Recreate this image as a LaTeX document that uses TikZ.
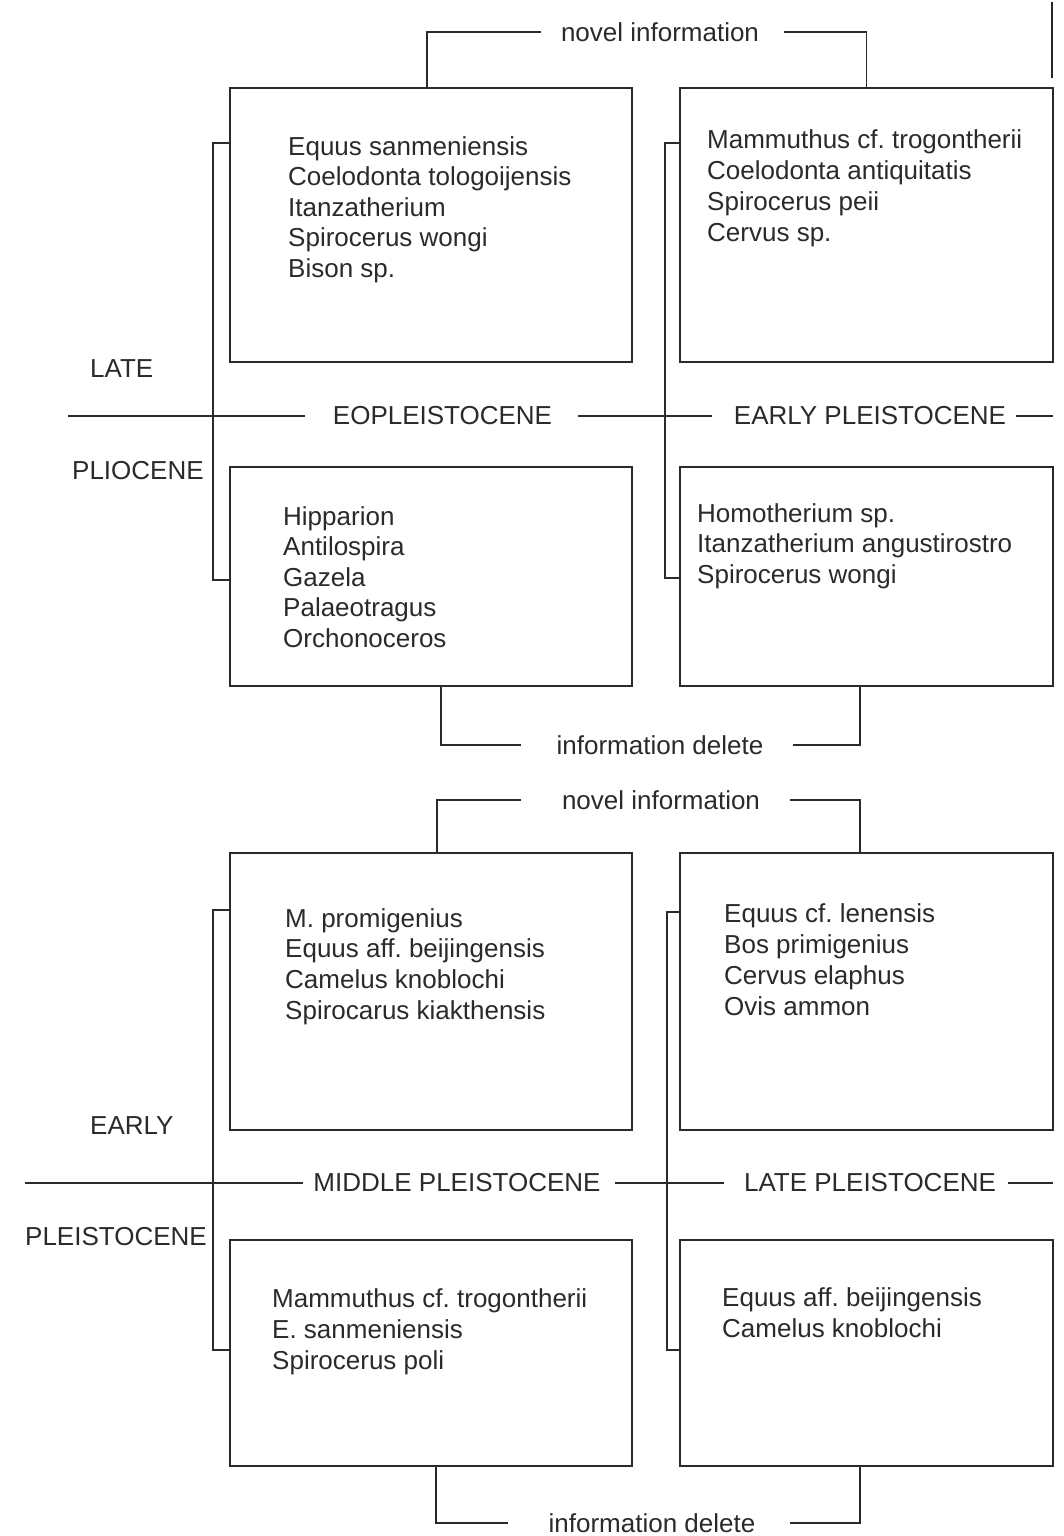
\documentclass[tikz,border=0pt]{standalone}
\usepackage{fontspec}
\setmainfont{Liberation Sans}
\usetikzlibrary{calc}
\definecolor{ink}{HTML}{2A2A2A}
\frenchspacing
\begin{document}
\begin{tikzpicture}[x=1pt,y=-1pt,
  box/.style={draw=ink, line width=2.2pt, inner sep=0pt, outer sep=0pt, anchor=north west},
  conn/.style={draw=ink, line width=1.7pt},
  item/.style={text=ink, inner sep=0pt, font=\fontsize{26}{31}\selectfont, anchor=base west},
  lbl/.style={text=ink, inner sep=0pt, font=\fontsize{26}{31}\selectfont}]
\useasboundingbox (0,0) rectangle (1063,1536);

% ---------- panel 1 boxes ----------
\node[box, minimum width=402pt, minimum height=274pt] (A) at (230,88) {};
\node[box, minimum width=373pt, minimum height=274pt] (B) at (680,88) {};
\node[box, minimum width=402pt, minimum height=219pt] (C) at (230,467) {};
\node[box, minimum width=373pt, minimum height=219pt] (D) at (680,467) {};

\foreach \t [count=\i] in {Equus sanmeniensis, Coelodonta tologoijensis, Itanzatherium, Spirocerus wongi, Bison sp.}
  \node[item] (A\i) at (288,{155+(\i-1)*30.6}) {\t};
\foreach \t [count=\i] in {Mammuthus cf. trogontherii, Coelodonta antiquitatis, Spirocerus peii, Cervus sp.}
  \node[item] (B\i) at (707,{148+(\i-1)*31}) {\t};
\foreach \t [count=\i] in {Hipparion, Antilospira, Gazela, Palaeotragus, Orchonoceros}
  \node[item] (C\i) at (283,{525+(\i-1)*30.5}) {\t};
\foreach \t [count=\i] in {Homotherium sp., Itanzatherium angustirostro, Spirocerus wongi}
  \node[item] (D\i) at (697,{522+(\i-1)*30.5}) {\t};

% ---------- panel 1 labels ----------
\node[lbl, anchor=west] (late) at (90,369) {LATE};
\node[lbl, anchor=west] (plio) at (72,471) {PLIOCENE};
\node[lbl] (eop) at (442.5,416) {EOPLEISTOCENE};
\node[lbl] (epl) at (870,416) {EARLY PLEISTOCENE};
\coordinate (h1l) at (68,416);
\coordinate (h1r) at (1053,416);
\draw[conn] (h1l) -- ($(eop.west)+(-28,0)$);
\draw[conn] ($(eop.east)+(26,0)$) -- ($(epl.west)+(-22,0)$);
\draw[conn] ($(epl.east)+(10,0)$) -- (h1r);

% brackets
\draw[conn] ($(A.north west)+(0,55)$) -| ($(C.north west)+(-17,113)$) -- ($(C.north west)+(0,113)$);
\draw[conn] ($(B.north west)+(0,55)$) -| ($(D.north west)+(-15,111)$) -- ($(D.north west)+(0,111)$);

% novel information / information delete
\node[lbl] (nov1) at (660,32) {novel information};
\draw[conn] ($(A.north west)+(197,0)$) |- ($(nov1.west)+(-20,0)$);
\draw[conn] ($(nov1.east)+(25,0)$) -| (B.north);
\node[lbl] (del1) at (660,745) {information delete};
\draw[conn] ($(C.south west)+(211,0)$) |- ($(del1.west)+(-35,0)$);
\draw[conn] ($(del1.east)+(29,0)$) -| ($(D.south west)+(180,0)$);
\coordinate (edge1) at (1052,2);
\coordinate (edge2) at (1052,78);
\draw[conn] (edge1) -- (edge2);

% ---------- panel 2 boxes ----------
\node[box, minimum width=402pt, minimum height=277pt] (E) at (230,853) {};
\node[box, minimum width=373pt, minimum height=277pt] (F) at (680,853) {};
\node[box, minimum width=402pt, minimum height=226pt] (G) at (230,1240) {};
\node[box, minimum width=373pt, minimum height=226pt] (H) at (680,1240) {};

\foreach \t [count=\i] in {M. promigenius, Equus aff. beijingensis, Camelus knoblochi, Spirocarus kiakthensis}
  \node[item] (E\i) at (285,{927+(\i-1)*30.7}) {\t};
\foreach \t [count=\i] in {Equus cf. lenensis, Bos primigenius, Cervus elaphus, Ovis ammon}
  \node[item] (F\i) at (724,{922+(\i-1)*31}) {\t};
\foreach \t [count=\i] in {Mammuthus cf. trogontherii, E. sanmeniensis, Spirocerus poli}
  \node[item] (G\i) at (272,{1307+(\i-1)*31}) {\t};
\foreach \t [count=\i] in {Equus aff. beijingensis, Camelus knoblochi}
  \node[item] (H\i) at (722,{1306+(\i-1)*31}) {\t};

% ---------- panel 2 labels ----------
\node[lbl, anchor=west] (early) at (90,1126) {EARLY};
\node[lbl, anchor=west] (pleis) at (25,1237) {PLEISTOCENE};
\node[lbl] (mid) at (457,1183) {MIDDLE PLEISTOCENE};
\node[lbl] (lpl) at (870,1183) {LATE PLEISTOCENE};
\coordinate (h2l) at (25,1183);
\coordinate (h2r) at (1053,1183);
\draw[conn] (h2l) -- ($(mid.west)+(-10,0)$);
\draw[conn] ($(mid.east)+(14,0)$) -- ($(lpl.west)+(-20,0)$);
\draw[conn] ($(lpl.east)+(12,0)$) -- (h2r);

% brackets
\draw[conn] ($(E.north west)+(0,57)$) -| ($(G.north west)+(-17,110)$) -- ($(G.north west)+(0,110)$);
\draw[conn] ($(F.north west)+(0,59)$) -| ($(H.north west)+(-13,110)$) -- ($(H.north west)+(0,110)$);

% novel information / information delete
\node[lbl] (nov2) at (661,800) {novel information};
\draw[conn] ($(E.north west)+(207,0)$) |- ($(nov2.west)+(-41,0)$);
\draw[conn] ($(nov2.east)+(30,0)$) -| ($(F.north west)+(180,0)$);
\node[lbl] (del2) at (652,1523) {information delete};
\draw[conn] ($(G.south west)+(206,0)$) |- ($(del2.west)+(-40,0)$);
\draw[conn] ($(del2.east)+(34,0)$) -| ($(H.south west)+(180,0)$);
\end{tikzpicture}
\end{document}
